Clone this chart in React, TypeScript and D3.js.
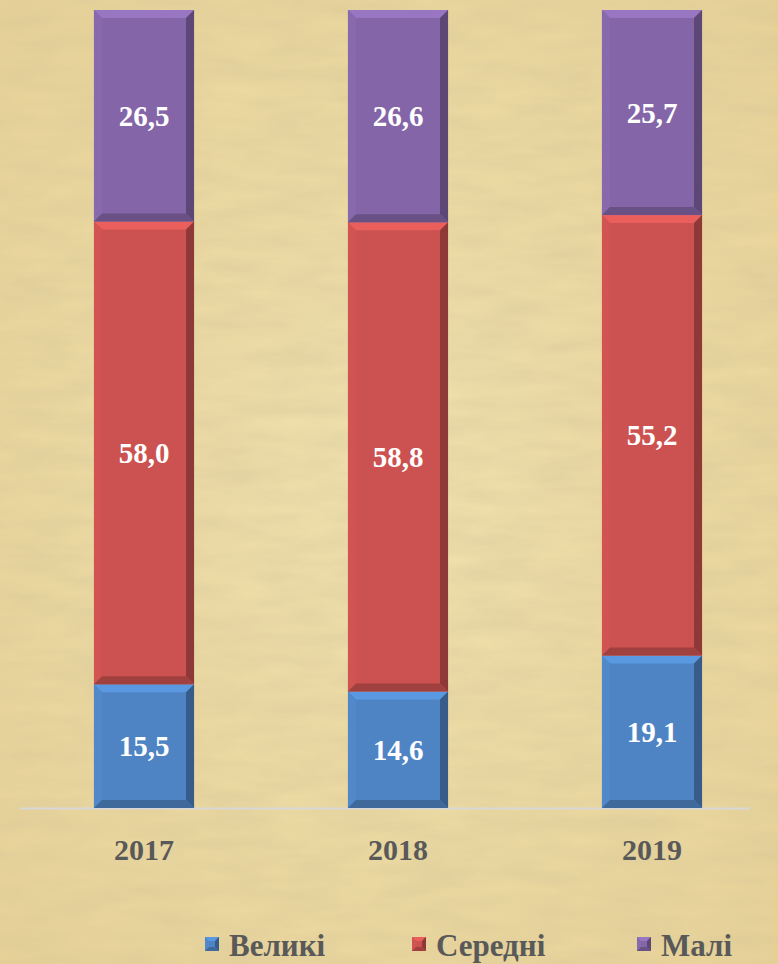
import React from "react";
import * as d3 from "d3";

const years = ["2017", "2018", "2019"];
const seriesNames = ["Великі", "Середні", "Малі"];
const velyki = [15.5, 14.6, 19.1];
const seredni = [58.0, 58.8, 55.2];
const mali = [26.5, 26.6, 25.7];
const colors = ["#4f84c4", "#cb5250", "#8466a8"];

const W = 778;
const H = 964;

function shade(c: string, k: number) {
  const col = d3.color(c)!;
  return k > 0 ? col.brighter(k).formatHex() : col.darker(-k).formatHex();
}

function Bevel({ x, y, w, h, color, b0 = 8 }: { x: number; y: number; w: number; h: number; color: string; b0?: number }) {
  const b = Math.min(b0, h / 3);
  return (
    <g>
      <rect x={x} y={y} width={w} height={h} fill={color} />
      <polygon points={`${x},${y} ${x + w},${y} ${x + w - b},${y + b} ${x + b},${y + b}`} fill={shade(color, 0.4)} />
      <polygon points={`${x},${y} ${x + b},${y + b} ${x + b},${y + h - b} ${x},${y + h}`} fill={shade(color, 0.08)} />
      <polygon points={`${x + w},${y} ${x + w},${y + h} ${x + w - b},${y + h - b} ${x + w - b},${y + b}`} fill={shade(color, -1.0)} />
      <polygon points={`${x},${y + h} ${x + w},${y + h} ${x + w - b},${y + h - b} ${x + b},${y + h - b}`} fill={shade(color, -0.65)} />
    </g>
  );
}

export default function App() {
  const x = d3.scaleBand<string>().domain(years).range([17, 779]).paddingInner(0.606).paddingOuter(0.303);
  const y = d3.scaleLinear().domain([0, 100]).range([808, 10]);
  const stackData = years.map((yr, i) => ({ year: yr, v: velyki[i], s: seredni[i], m: mali[i] }));
  const stack = d3.stack<any>().keys(["v", "s", "m"]);
  const layers = stack(stackData);

  const legendX = [205, 412, 637];

  return (
    <svg width={W} height={H} style={{ position: "absolute", left: 0, top: 0 }} fontFamily="'Liberation Serif', 'Times New Roman', serif">
      <defs>
        <filter id="paper" x="0" y="0" width="100%" height="100%">
          <feTurbulence type="fractalNoise" baseFrequency="0.015 0.06" numOctaves="4" seed="3" result="n" />
          <feColorMatrix type="matrix" values="0 0 0 0 0.6  0 0 0 0 0.5  0 0 0 0 0.3  0 0 0 0.4 -0.03" />
          <feComposite in2="SourceGraphic" operator="in" />
        </filter>
        <radialGradient id="bg" cx="0.5" cy="0.5" r="0.75">
          <stop offset="0" stopColor="#f1e2ae" />
          <stop offset="1" stopColor="#e8d296" />
        </radialGradient>
      </defs>
      <rect x={0} y={0} width={W} height={H} fill="url(#bg)" />
      <rect x={0} y={0} width={W} height={H} fill="#fff" filter="url(#paper)" />
      <line x1={20} x2={750} y1={808.5} y2={808.5} stroke="#d8d8d8" strokeWidth={2} />
      {layers.map((layer, si) => (
        <g key={si}>
          {layer.map((d, i) => {
            const bx = x(years[i])!;
            const y0 = y(d[1]);
            const y1 = y(d[0]);
            return <Bevel key={i} x={bx} y={y0} w={x.bandwidth()} h={y1 - y0} color={colors[si]} />;
          })}
          {layer.map((d, i) => (
            <text
              key={"t" + i}
              x={x(years[i])! + x.bandwidth() / 2}
              y={(y(d[0]) + y(d[1])) / 2}
              dy="0.35em"
              textAnchor="middle"
              fill="#ffffff"
              fontWeight="bold"
              fontSize={29}
            >
              {(d[1] - d[0]).toFixed(1).replace(".", ",")}
            </text>
          ))}
        </g>
      ))}
      {years.map((yr) => (
        <text key={yr} x={x(yr)! + x.bandwidth() / 2} y={860} textAnchor="middle" fill="#595959" fontWeight="bold" fontSize={30}>
          {yr}
        </text>
      ))}
      {seriesNames.map((n, i) => (
        <g key={n}>
          <Bevel x={legendX[i]} y={937} w={14} h={14} color={colors[i]} b0={4} />
          <text x={legendX[i] + 24} y={956} fill="#595959" fontWeight="bold" fontSize={31}>
            {n}
          </text>
        </g>
      ))}
    </svg>
  );
}
